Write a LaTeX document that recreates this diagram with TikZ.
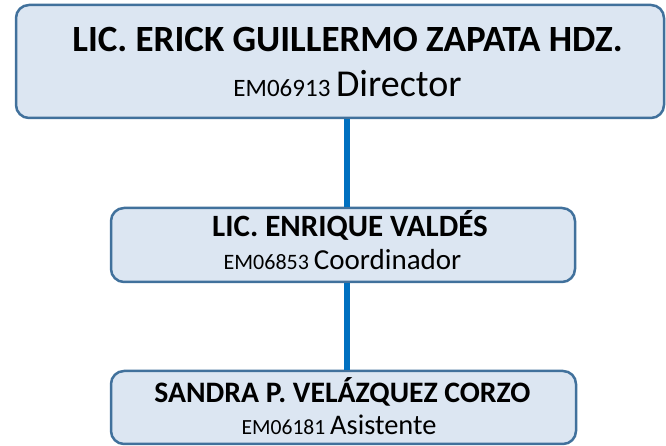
\documentclass[tikz,border=0pt]{standalone}
\usepackage{fontspec}
\setmainfont{Carlito}
\definecolor{boxfill}{HTML}{DCE6F2}
\definecolor{boxline}{HTML}{41719C}
\definecolor{linkblue}{HTML}{0070C0}
\begin{document}
\begin{tikzpicture}[x=1pt,y=1pt,
  orgbox/.style={draw=boxline, fill=boxfill, line width=2.5pt, rounded corners=13pt, inner sep=0pt},
  link/.style={draw=linkblue, line width=6pt},
  txt/.style={inner sep=0pt, anchor=base}]
\useasboundingbox (0,0) rectangle (666,446);
% boxes
\node[orgbox, minimum width=648pt, minimum height=113pt] (b1) at (340,384.5) {};
\node[orgbox, minimum width=464pt, minimum height=74pt] (b2) at (343,201) {};
\node[orgbox, minimum width=465pt, minimum height=73pt] (b3) at (343.5,38.5) {};
\coordinate (cx) at (347,0);
% connectors
\draw[link] (b1.south -| cx) -- (b2.north -| cx);
\draw[link] (b2.south -| cx) -- (b3.north -| cx);
% texts
\node[txt, font=\bfseries\fontsize{37}{37}\selectfont] (t1a) at (347.5,394) {LIC. ERICK GUILLERMO ZAPATA HDZ.};
\node[txt] (t1b) at (347.5,349) {\fontsize{25}{25}\selectfont EM06913 \fontsize{38}{38}\selectfont Director};
\node[txt, font=\bfseries\fontsize{31}{31}\selectfont] (t2a) at (350,209) {LIC. ENRIQUE VALDÉS};
\node[txt] (t2b) at (342.5,176) {\fontsize{22}{22}\selectfont EM06853 \fontsize{29}{29}\selectfont Coordinador};
\node[txt, font=\bfseries\fontsize{29.7}{29.7}\selectfont] (t3a) at (342.5,43) {SANDRA P. VELÁZQUEZ CORZO};
\node[txt] (t3b) at (339,11) {\fontsize{21.6}{21.6}\selectfont EM06181 \fontsize{28.4}{28.4}\selectfont Asistente};
\end{tikzpicture}
\end{document}
